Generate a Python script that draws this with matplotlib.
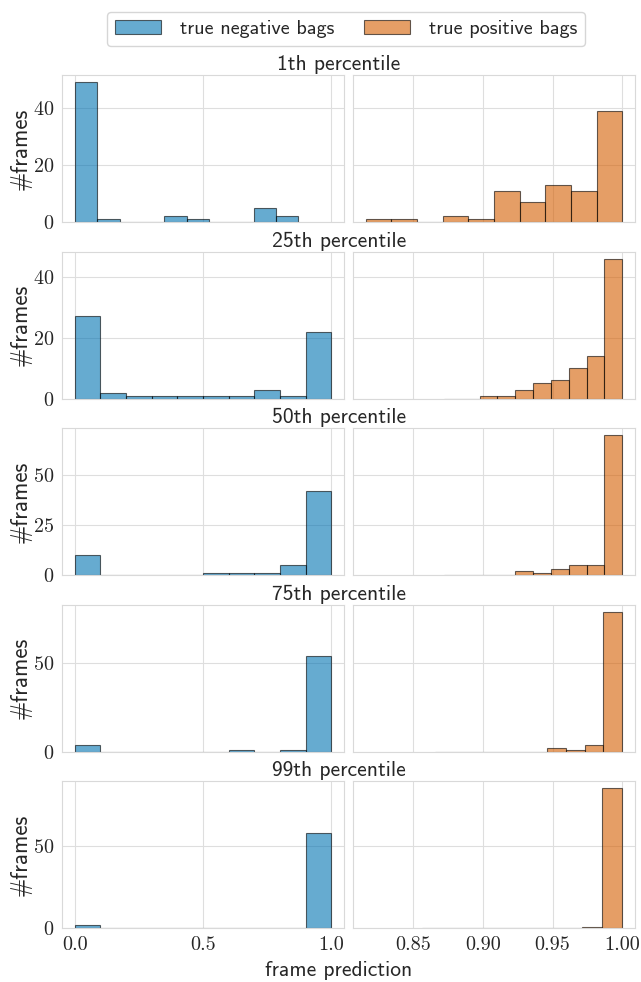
import numpy as np
import matplotlib
matplotlib.use("Agg")
import matplotlib.pyplot as plt
import seaborn as sns

# percentiles shown in each row
row_titles = ["1th percentile", "25th percentile", "50th percentile",
              "75th percentile", "99th percentile"]

# histogram ranges (lo, hi) of each row, 10 bins each
neg_lo = [0.0, 0.0, 0.0, 0.0, 0.0]
neg_hi = [0.872, 1.0, 1.0, 1.0, 1.0]
pos_lo = [0.816, 0.872, 0.872, 0.8655, 0.8565]
pos_hi = [1.0, 1.0, 1.0, 1.0, 1.0]

# counts per bin
neg_counts = [
    [49, 1, 0, 0, 2, 1, 0, 0, 5, 2],
    [27, 2, 1, 1, 1, 1, 1, 3, 1, 22],
    [10, 0, 0, 0, 0, 1, 1, 1, 5, 42],
    [4, 0, 0, 0, 0, 0, 1, 0, 1, 54],
    [2, 0, 0, 0, 0, 0, 0, 0, 0, 58],
]
pos_counts = [
    [1, 1, 0, 2, 1, 11, 7, 13, 11, 39],
    [0, 0, 1, 1, 3, 5, 6, 10, 14, 46],
    [0, 0, 0, 0, 2, 1, 3, 5, 5, 70],
    [0, 0, 0, 0, 0, 0, 2, 1, 4, 79],
    [0, 0, 0, 0, 0, 0, 0, 0, 1, 85],
]

row_yticks = [[0, 20, 40], [0, 20, 40], [0, 25, 50], [0, 50], [0, 50]]

sns.set_style("whitegrid", {"grid.color": ".87", "axes.edgecolor": ".85"})
plt.rcParams["font.family"] = ["cmss10", "DejaVu Sans"]
plt.rcParams["axes.formatter.use_mathtext"] = True

neg_color = "#0173b2"
pos_color = "#d55e00"

fig, axes = plt.subplots(5, 2, figsize=(6.41, 9.82), dpi=100,
                         sharex="col", sharey="row")
W, H = 641, 982
fig.subplots_adjust(left=62 / W, right=635 / W, top=1 - 75 / H,
                    bottom=1 - 928.3 / H, wspace=0.032, hspace=0.2)


def draw_hist(ax, lo, hi, counts, color, label):
    edges = np.linspace(lo, hi, len(counts) + 1)
    centers = (edges[:-1] + edges[1:]) / 2
    return ax.hist(centers, bins=edges, weights=counts, color=color,
                   alpha=0.6, edgecolor="black", linewidth=0.8, label=label)


for i in range(5):
    axl, axr = axes[i]
    draw_hist(axl, neg_lo[i], neg_hi[i], neg_counts[i], neg_color,
              "true negative bags")
    draw_hist(axr, pos_lo[i], pos_hi[i], pos_counts[i], pos_color,
              "true positive bags")
    axl.set_yticks(row_yticks[i])
    axl.set_ylabel("#frames", fontsize=16.5, labelpad=1)
    for ax in (axl, axr):
        ax.tick_params(labelsize=14.5, labelfontfamily="cmr10", pad=2)
    # row title
    top = axl.get_position().y1
    fig.text(339 / W, top + 1 / H, row_titles[i], ha="center", va="bottom",
             fontsize=15.5)

axes[0, 0].set_xticks([0.0, 0.5, 1.0])
axes[0, 0].set_xticklabels(["0.0", "0.5", "1.0"])
axes[0, 1].set_xticks([0.85, 0.90, 0.95, 1.00])
axes[0, 1].set_xticklabels(["0.85", "0.90", "0.95", "1.00"])

fig.text(339 / W, 1 - 971 / H, "frame prediction", ha="center",
         va="center", fontsize=15.5)

h1, l1 = axes[0, 0].get_legend_handles_labels()
h2, l2 = axes[0, 1].get_legend_handles_labels()
fig.legend(h1 + h2, l1 + l2, loc="upper center", ncol=2,
           bbox_to_anchor=(346 / W, 1 - 2 / H), fontsize=14.5,
           handlelength=2.3, handletextpad=0.9, columnspacing=1.5,
           frameon=True)

plt.savefig("out.png", dpi=100)
